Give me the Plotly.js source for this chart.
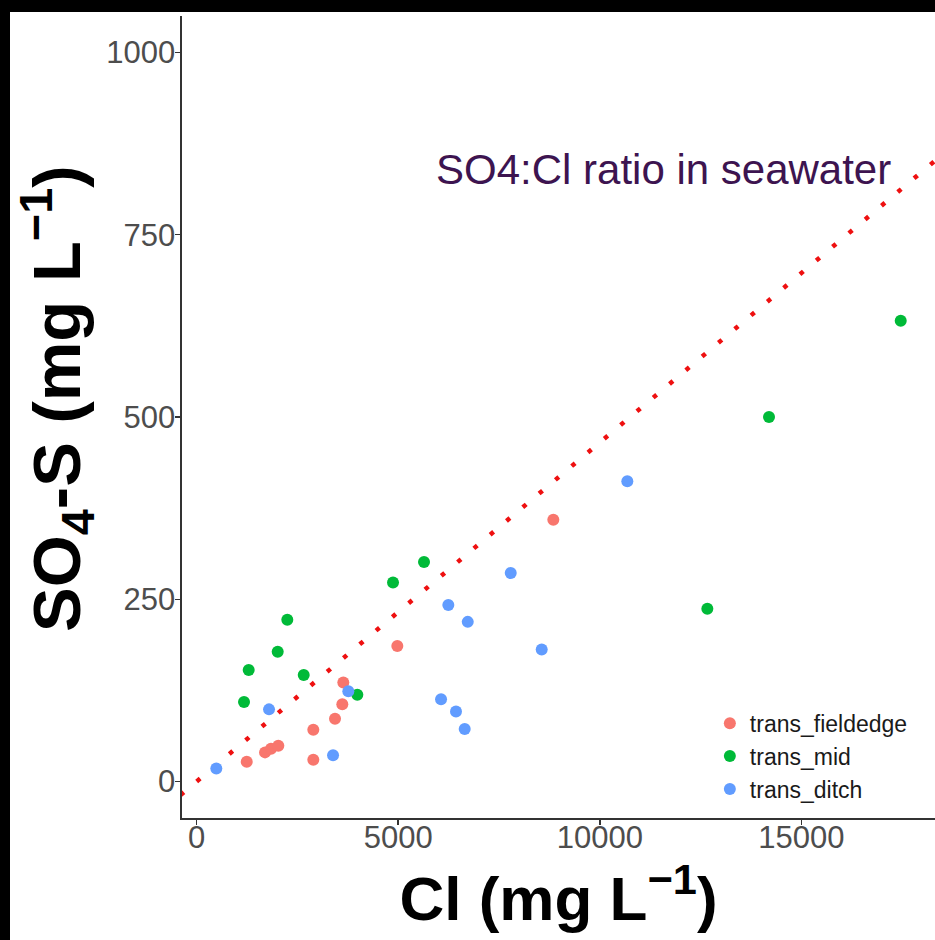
<!DOCTYPE html>
<html><head><meta charset="utf-8">
<script src="https://cdn.plot.ly/plotly-3.0.1.min.js"></script>
<style>
html,body{margin:0;padding:0;background:#000;width:935px;height:940px;overflow:hidden}
#chart{position:absolute;left:10px;top:12px;width:925px;height:928px;background:#fff}
</style></head><body><div id="chart"></div>
<script>
// Data
const seriesNames = ["trans_fieldedge", "trans_mid", "trans_ditch"];
const seriesColors = ["#F8766D", "#00BA38", "#619CFF"];

const fieldedgeCl  = [1245, 1699, 1847, 2028, 2896, 2896, 3434, 3615, 3640, 4979, 8847];
const fieldedgeSO4 = [  27,   40,   45,   49,   71,   30,   86,  106,  136,  186,  359];

const midCl  = [1178, 1294, 2013, 2251, 2658, 3987, 4872, 5641, 12666, 14195, 17461];
const midSO4 = [ 109,  153,  178,  222,  146,  119,  273,  301,   237,   500,   632];

const ditchCl  = [491, 1798, 3385, 3764, 6063, 6434, 6650, 6244, 6725, 7791, 8559, 10682];
const ditchSO4 = [ 18,   99,   36,  124,  113,   96,   72,  242,  219,  286,  181,   412];

// Seawater SO4-S : Cl reference line (two end points)
const seawaterCl  = [-400, 18500];
const seawaterSO4 = [-18.6, 860.3];

const xTickVals = [0, 5000, 10000, 15000];
const xTickText = ["0", "5000", "10000", "15000"];
const yTickVals = [0, 250, 500, 750, 1000];
const yTickText = ["0", "250", "500", "750", "1000"];

const xTitle = "Cl (mg L<sup>−1</sup>)";
const yTitle = "SO<sub>4</sub>-S (mg L<sup>−1</sup>)";
const lineLabel = "SO4:Cl ratio in seawater";

const regular = "Liberation Sans, Arial, sans-serif";

const xs = [fieldedgeCl, midCl, ditchCl];
const ys = [fieldedgeSO4, midSO4, ditchSO4];

const traces = [{
  x: seawaterCl, y: seawaterSO4, mode: "lines", type: "scatter",
  line: {color: "#ee1010", width: 4.5, dash: "4.5px,16.8px"},
  showlegend: false, hoverinfo: "skip"
}];
for (let i = 0; i < 3; i++) {
  traces.push({
    x: xs[i], y: ys[i], mode: "markers", type: "scatter", name: seriesNames[i],
    marker: {color: seriesColors[i], size: 12}
  });
}

const axisCommon = {
  showline: true, linecolor: "#333333", linewidth: 1.6,
  ticks: "outside", ticklen: 5, tickwidth: 1.4, tickcolor: "#333333",
  showgrid: false, zeroline: false,
  tickfont: {family: regular, size: 31, color: "#4d4d4d"}
};

const layout = {
  width: 925, height: 928,
  margin: {l: 172, r: 0, t: 4, b: 122},
  paper_bgcolor: "#ffffff", plot_bgcolor: "#ffffff",
  showlegend: true,
  xaxis: Object.assign({}, axisCommon, {
    range: [-360, 18311], tickmode: "array", tickvals: xTickVals, ticktext: xTickText,
    ticklabelstandoff: -14,
    title: {text: xTitle, font: {family: regular, size: 62, color: "#000", weight: "bold"}, standoff: 2}
  }),
  yaxis: Object.assign({}, axisCommon, {
    range: [-50, 1050], tickmode: "array", tickvals: yTickVals, ticktext: yTickText,
    ticklabelstandoff: -6
  }),
  legend: {
    x: 0.701, y: 0.145, xanchor: "left", yanchor: "top",
    bgcolor: "#ffffff", borderwidth: 0,
    font: {family: regular, size: 23, color: "#1a1a1a"},
    tracegroupgap: 0
  },
  annotations: [{
    x: 11567, y: 839, xref: "x", yref: "y", showarrow: false,
    text: lineLabel,
    font: {family: regular, size: 42, color: "#3d1450"},
    xanchor: "center", yanchor: "middle"
  }, {
    x: -0.166, y: 0.5224, xref: "paper", yref: "paper", showarrow: false,
    text: yTitle, textangle: -90,
    font: {family: regular, size: 67, color: "#000", weight: "bold"},
    xanchor: "center", yanchor: "middle"
  }]
};

Plotly.newPlot("chart", traces, layout, {staticPlot: true, displayModeBar: false});
</script></body></html>
